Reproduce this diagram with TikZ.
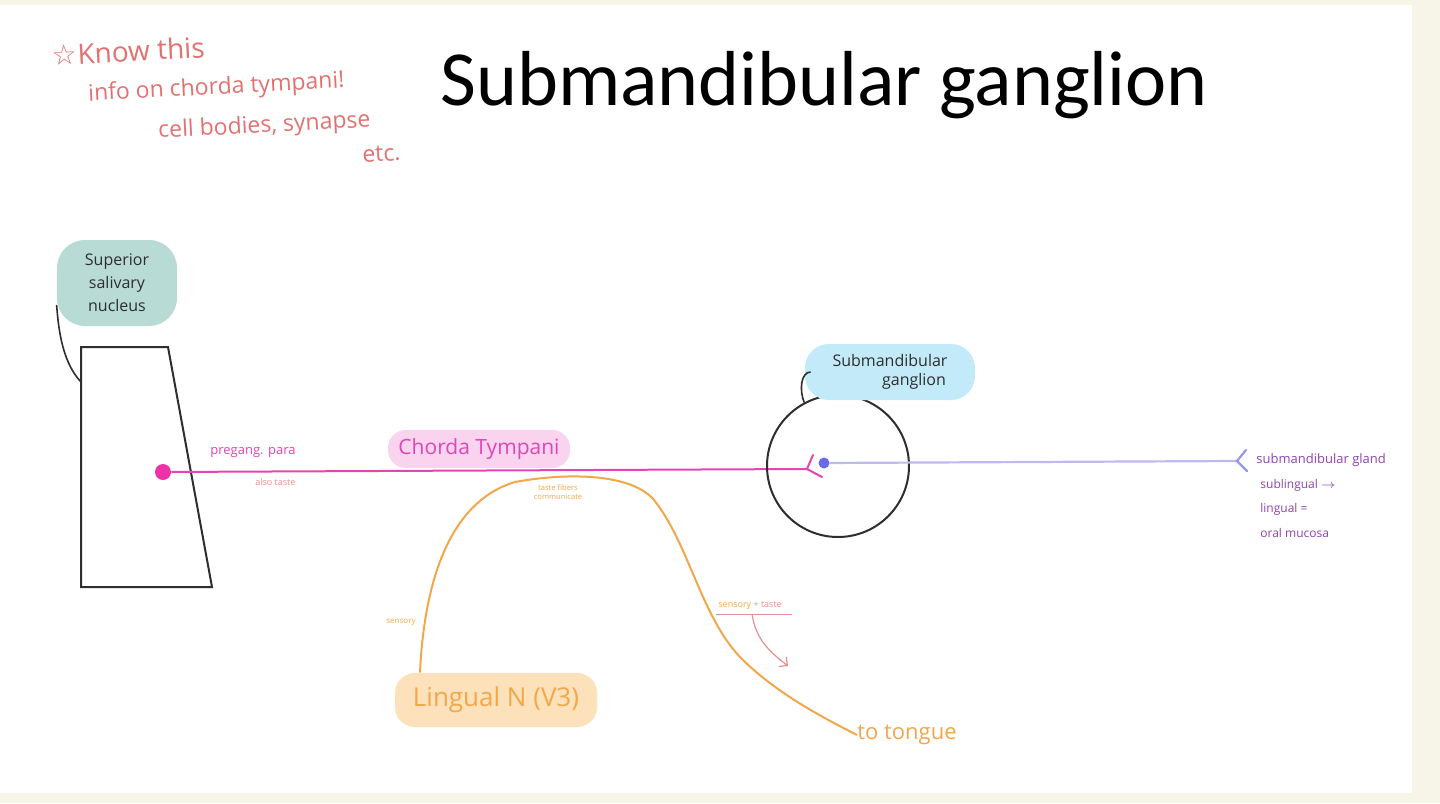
\documentclass[tikz,border=0pt]{standalone}
\usepackage{fontspec}
\setmainfont{Open Sans}
\newfontfamily\titlefont{Carlito}
\newfontfamily\symfont{DejaVu Sans}
\usetikzlibrary{arrows.meta}
\definecolor{cream}{HTML}{F7F5E8}
\definecolor{ssnteal}{HTML}{B9DBD5}
\definecolor{smgblue}{HTML}{C2EAF8}
\definecolor{ctpink}{HTML}{FAD3EE}
\definecolor{ctmag}{HTML}{E046B8}
\definecolor{nervemag}{HTML}{E444B4}
\definecolor{dotmag}{HTML}{EE33A8}
\definecolor{lingfill}{HTML}{FCE1BA}
\definecolor{lingor}{HTML}{F2A84A}
\definecolor{blueline}{HTML}{BBBBF2}
\definecolor{bluedot}{HTML}{6A6AE6}
\definecolor{notered}{HTML}{E27272}
\definecolor{lightred}{HTML}{E89090}
\definecolor{purp}{HTML}{9043B0}
\definecolor{outline}{HTML}{2E2E2E}
\tikzset{
  blob/.style={inner sep=0pt, align=center, text=outline},
  hand/.style={inner sep=0pt, anchor=west},
  notetext/.style={hand, text=notered, font=\fontsize{11.5}{13}\selectfont, rotate=3},
  leader/.style={draw=outline, line width=0.8pt},
  pinkline/.style={draw=nervemag, line width=1pt},
  bluenerve/.style={draw=blueline, line width=1.1pt},
  lingnerve/.style={draw=lingor, line width=1pt},
}
\begin{document}
\begin{tikzpicture}[x=0.5pt,y=-0.5pt]
\useasboundingbox (0,0) rectangle (1440,803);
\fill[cream] (0,0) rectangle (1440,803);
\fill[white] (0,5) rectangle (1412,793);

% title
\node[anchor=west, inner sep=0pt, font=\titlefont\fontsize{39}{44}\selectfont] (title) at (440,85) {Submandibular ganglion};

% red note
\node[notetext, font=\fontsize{14}{16}\selectfont] (note1) at (52,55) {{\symfont ☆}Know this};
\node[notetext] (note2) at (88,95) {info on chorda tympani!};
\node[notetext] (note3) at (158,132) {cell bodies, synapse};
\node[notetext] (note4) at (362,155) {etc.};

% superior salivary nucleus box
\coordinate (trTL) at (81,347);
\coordinate (trTR) at (168,347);
\coordinate (trBR) at (212,587);
\coordinate (trBL) at (81,587);
\coordinate (trapL) at (81,382);
\draw[draw=outline, line width=1pt] (trTL) -- (trTR) -- (trBR) -- (trBL) -- cycle;

\node[blob, fill=ssnteal, rounded corners=14pt, minimum width=60pt, minimum height=43pt,
  font=\fontsize{8}{11.5}\selectfont] (ssn) at (117,283) {Superior\\salivary\\nucleus};
\draw[leader] (ssn.200) .. controls (58,320) and (60,360) .. (trapL);

% chorda tympani
\node[blob, fill=ctpink, rounded corners=9pt, minimum width=91pt, minimum height=19pt,
  text=ctmag, font=\fontsize{10.5}{12}\selectfont] (ct) at (479,449) {Chorda Tympani};

\node[circle, fill=dotmag, inner sep=0pt, minimum size=8pt] (pdot) at (163,472) {};
\coordinate (pfork) at (807,469);
\coordinate (pforkU) at (813,455);
\coordinate (pforkD) at (822,477);
\draw[pinkline] (pdot) -- (pfork);
\draw[pinkline, line cap=round] (pforkU) -- (pfork) -- (pforkD);

\node[hand, text=nervemag, font=\fontsize{6.5}{7}\selectfont] (pregang) at (210,453) {pregang. para};
\node[hand, text=lightred, font=\fontsize{4.5}{5}\selectfont] (alsotaste) at (255,482) {also taste};

% ganglion
\node[circle, draw=outline, line width=1pt, minimum size=71pt, inner sep=0pt] (gang) at (838,466) {};
\node[blob, fill=smgblue, rounded corners=12pt, minimum width=85pt, minimum height=28pt,
  font=\fontsize{8}{9.5}\selectfont] (smg) at (890,372) {Submandibular\\\hspace*{3em}ganglion};
\draw[leader] ([xshift=3pt]smg.west) .. controls (801,372) and (799,390) .. (gang.118);

\node[circle, fill=bluedot, inner sep=0pt, minimum size=5.5pt] (bdot) at (824,463) {};
\coordinate (bfork) at (1237,461);
\coordinate (bforkU) at (1246,450);
\coordinate (bforkD) at (1247,471);
\draw[bluenerve] (bdot) -- (bfork);
\draw[bluenerve, draw=bluedot!70, line cap=round] (bforkU) -- (bfork) -- (bforkD);

\node[hand, text=purp, font=\fontsize{6.5}{7}\selectfont] (gland) at (1256,460) {submandibular gland};
\node[hand, text=purp, font=\fontsize{6}{7}\selectfont] (subl) at (1260,485) {sublingual $\rightarrow$};
\node[hand, text=purp, font=\fontsize{6}{7}\selectfont] (ling) at (1260,509) {lingual =};
\node[hand, text=purp, font=\fontsize{6}{7}\selectfont] (oral) at (1260,533) {oral mucosa};

% lingual nerve
\node[blob, fill=lingfill, rounded corners=10pt, minimum width=101pt, minimum height=27pt,
  text=lingor, font=\fontsize{13}{14}\selectfont] (lingual) at (496,700) {Lingual N (V3)};
\node[hand, text=lingor, font=\fontsize{11}{12}\selectfont] (tongue) at (857,735) {to tongue};
\draw[lingnerve] ([xshift=-38pt]lingual.north)
  .. controls (424,585) and (448,502) .. (515,482)
  .. controls (570,472) and (632,474) .. (654,500)
  .. controls (690,545) and (702,622) .. (745,662)
  .. controls (780,695) and (820,716) .. (tongue.west);

\node[inner sep=0pt, align=center, text=lingor, font=\fontsize{3.8}{4.6}\selectfont] (tfc) at (558,492) {taste fibers\\communicate};
\node[hand, text=lingor, font=\fontsize{4}{5}\selectfont] (sens) at (386,622) {sensory};

\node[hand, font=\fontsize{4.5}{5}\selectfont] (st) at (718,606) {\textcolor{lingor}{sensory} \textcolor{lightred}{+ taste}};
\coordinate (stL) at (716,614);
\coordinate (stR) at (792,614);
\coordinate (stA) at (752,614);
\coordinate (stB) at (788,666);
\draw[draw=lightred, line width=0.5pt] (stL) -- (stR);
\draw[draw=lightred, line width=0.6pt, -{Straight Barb[length=3pt]}] (stA) .. controls (756,640) and (770,652) .. (stB);
\end{tikzpicture}
\end{document}
